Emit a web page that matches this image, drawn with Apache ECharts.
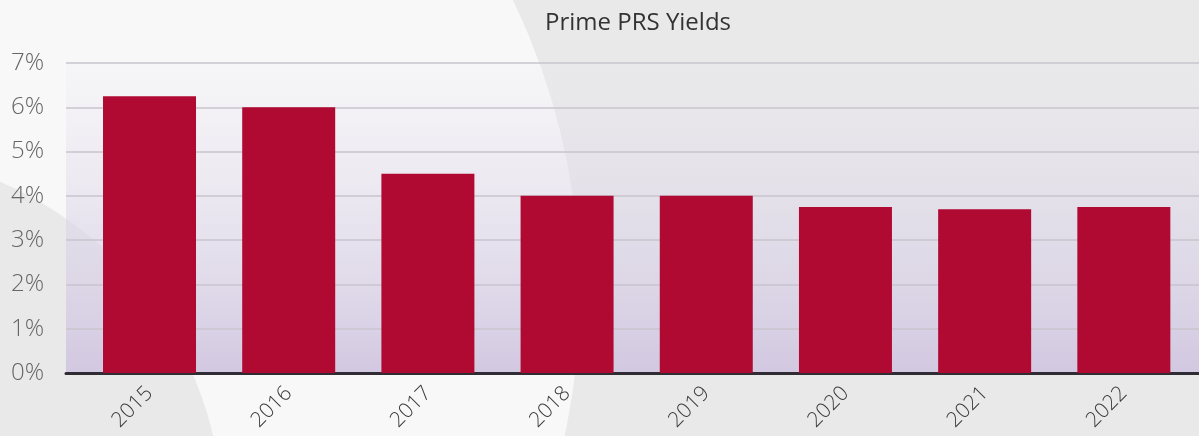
<!DOCTYPE html>
<html>
<head>
<meta charset="utf-8">
<script src="https://cdn.jsdelivr.net/npm/echarts@6/dist/echarts.min.js"></script>
<style>
  html, body { margin: 0; padding: 0; background: #e9e9e9; }
  #chart { width: 1199px; height: 436px; }
</style>
</head>
<body>
<div id="chart"></div>
<script>
const years = ['2015', '2016', '2017', '2018', '2019', '2020', '2021', '2022']
const yields = [6.25, 6.0, 4.5, 4.0, 4.0, 3.75, 3.7, 3.75]
const yTicks = [0, 1, 2, 3, 4, 5, 6, 7]

const chart = echarts.init(document.getElementById('chart'))

const option = {
  backgroundColor: '#e9e9e9',
  textStyle: { fontFamily: 'Open Sans' },
  title: {
    text: 'Prime PRS Yields',
    left: 540,
    top: 6,
    textStyle: { fontSize: 24, fontWeight: 'normal', color: '#333', fontFamily: 'Open Sans' }
  },
  // decorative backdrop shapes
  graphic: [
    { type: 'circle', z: -20, silent: true, shape: { cx: -92, cy: 293, r: 672 }, style: { fill: '#f8f8f8' } },
    { type: 'circle', z: -19, silent: true, shape: { cx: -145, cy: 520, r: 368 }, style: { fill: '#e9e9e9' } }
  ],
  grid: {
    left: 66,
    right: 0,
    top: 63,
    bottom: 63,
    show: true,
    borderWidth: 0,
    backgroundColor: {
      type: 'linear', x: 0, y: 0, x2: 0, y2: 1,
      colorStops: [
        { offset: 0, color: 'rgba(232,228,240,0.15)' },
        { offset: 1, color: 'rgba(210,200,225,1)' }
      ]
    }
  },
  xAxis: {
    type: 'value',
    min: -0.6,
    max: 7.54,
    splitLine: { show: false },
    axisTick: { show: false },
    axisLine: { show: true, onZero: false, lineStyle: { color: '#2f2c34', width: 3 } },
    axisLabel: {
      customValues: years.map((y, i) => i),
      formatter: v => years[v],
      rotate: 45,
      margin: 17,
      fontSize: 21,
      fontWeight: 300,
      color: '#3a3a3a'
    }
  },
  yAxis: {
    type: 'value',
    min: 0,
    max: 7,
    interval: 1,
    axisLine: { show: false },
    axisTick: { show: false },
    splitLine: { lineStyle: { color: '#c9c5ce', width: 1.5 } },
    axisLabel: {
      customValues: yTicks,
      formatter: '{value}%',
      margin: 22,
      fontSize: 24,
      fontWeight: 300,
      color: '#666'
    }
  },
  series: [
    {
      type: 'bar',
      barWidth: 93,
      data: years.map((y, i) => [i, yields[i]]),
      itemStyle: { color: '#b00a33' }
    }
  ]
}

chart.setOption(option)
</script>
</body>
</html>
